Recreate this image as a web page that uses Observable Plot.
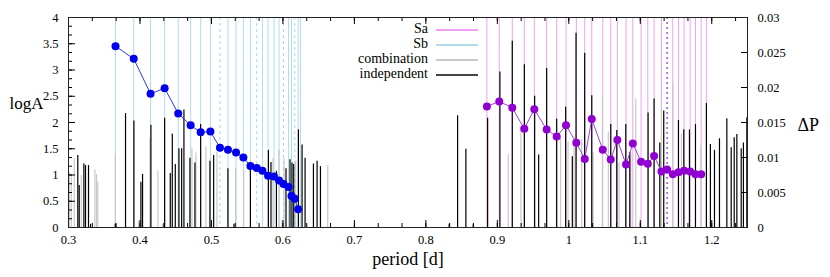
<!DOCTYPE html>
<html><head><meta charset="utf-8">
<script src="https://cdn.jsdelivr.net/npm/d3@7"></script>
<script src="https://cdn.jsdelivr.net/npm/@observablehq/plot@0.6"></script>
<style>
body{margin:0;background:#fff;}
#wrap{position:relative;width:830px;height:277px;font-family:"Liberation Serif",serif;}
.lg-t{position:absolute;font-size:14px;line-height:16px;text-align:right;white-space:nowrap;color:#000;}
.lg-l{position:absolute;height:2px;}
</style></head><body><div id="wrap"></div>
<script>
// Sb sequence periods (light-blue lines) and period spacing ΔP (blue points)
const sbPeriods=[0.3658,0.3913,0.4148,0.4345,0.4535,0.4709,0.4849,0.4985,0.5119,0.5231,0.5344,0.5447,0.5545,0.5634,0.5713,0.5792,0.5876,0.5946,0.6008,0.6078,0.6120,0.6166,0.6213,0.6245];
const sbDP=[0.0259,0.0241,0.0191,0.0199,0.0163,0.0146,0.0136,0.0137,0.0114,0.0111,0.0107,0.0100,0.0088,0.0085,0.0081,0.0074,0.0073,0.0067,0.0062,0.0058,0.0045,0.0041,0.0026];
const sbDashed=[0.5119,0.5634,0.6008,0.6166];
// Sa sequence periods (magenta lines) and ΔP (purple points)
const saPeriods=[0.8854,0.9027,0.9209,0.9377,0.9517,0.9690,0.9830,0.9961,1.0105,1.0223,1.0321,1.0475,1.0587,1.0679,1.0801,1.0895,1.1011,1.1105,1.1193,1.1296,1.1375,1.1455,1.1534,1.1613,1.1697,1.1772,1.1852,1.1925];
const saDP=[0.0173,0.0180,0.0171,0.0141,0.0169,0.0140,0.0130,0.0146,0.0121,0.0098,0.0155,0.0111,0.0097,0.0125,0.0090,0.0120,0.0094,0.0091,0.0102,0.0080,0.0083,0.0076,0.0079,0.0081,0.0080,0.0076,0.0076];
const saDashed=[1.1375];
// independent frequencies: period, logA
const indepP=[0.313,0.315,0.3215,0.3238,0.328,0.3308,0.3654,0.3798,0.3915,0.4013,0.4036,0.4153,0.4345,0.4424,0.4452,0.4494,0.4545,0.4583,0.4615,0.4699,0.4769,0.4849,0.4979,0.5031,0.5231,0.5315,0.5545,0.5797,0.5833,0.5909,0.6043,0.6099,0.6127,0.6151,0.6217,0.6268,0.6310,0.6427,0.6478,0.6525,
0.8326,0.8444,0.8560,0.8663,0.8864,0.9036,0.9209,0.9378,0.9522,0.9578,0.9690,0.9830,0.9956,1.0049,1.0101,1.0222,1.0321,1.0587,1.0671,1.0797,1.0853,1.1109,1.1193,1.1273,1.1328,1.1534,1.1609,1.1688,1.1772,1.1925,1.1981,1.2038,1.2108,1.2211,1.2272,1.2314,1.2351,1.2412,1.2443,1.2491];
const indepA=[1.37,0.80,1.21,1.18,1.18,0.06,0.06,2.17,2.03,0.86,1.01,1.95,2.08,1.03,1.78,1.20,1.50,1.50,2.24,1.32,1.23,1.96,1.26,1.37,1.12,0.06,1.24,1.47,1.24,1.07,1.12,1.29,1.23,1.20,1.86,1.57,1.32,1.21,1.26,1.16,
0.06,2.13,1.49,0.06,2.08,2.96,3.55,3.10,2.50,1.38,3.03,2.06,2.29,1.35,3.70,3.32,2.51,1.96,1.85,1.96,1.43,2.18,2.45,1.61,2.22,2.04,1.86,1.86,1.96,2.36,1.58,1.47,1.69,2.07,1.52,1.71,1.77,1.50,1.61,2.09];
// combination frequencies: period, logA
const combP=[0.301,0.3038,0.308,0.318,0.3369,0.3392,0.341,0.3654,0.398,0.4139,0.4251,0.4317,0.4727,0.4783,0.4923,0.5077,0.5339,0.5451,0.5861,0.5945,0.5989,0.6015,0.6179,0.6627,
0.9153,0.9330,0.9886,0.9989,1.0073,1.0180,1.0339,1.0470,1.0553,1.0703,1.0867,1.0937,1.1296,1.1455,1.1576,1.1847];
const combA=[1.05,1.02,1.31,0.99,1.10,1.01,0.86,1.39,0.12,1.69,1.07,0.06,1.50,1.42,1.54,1.43,1.12,1.09,1.31,1.47,0.12,1.31,1.26,1.18,
1.39,1.91,1.72,1.63,1.72,1.67,1.43,2.51,1.82,1.24,1.40,2.45,2.42,2.77,1.78,1.56];
// axes
const xTicks=[0.3,0.4,0.5,0.6,0.7,0.8,0.9,1.0,1.1,1.2];
const yTicks=[0,0.5,1,1.5,2,2.5,3,3.5,4];
const dpTicks=[0,0.005,0.01,0.015,0.02,0.025,0.03];
const legendLabels=["Sa","Sb","combination","independent"];
const legendColors=["#f0a0f0","#b0dde8","#c8c8c8","#444444"];

const W=830,H=277,ML=68,MR=83,MT=17,MB=50;
const IW=W-ML-MR, IH=H-MT-MB;
const k=4/0.03; // ΔP -> logA axis scale factor (right axis 0..0.03)

const sbPts=sbDP.map((d,i)=>({p:sbPeriods[i],y:d*k}));
const saPts=saDP.map((d,i)=>({p:saPeriods[i],y:d*k}));
const indep=indepP.map((p,i)=>({p,a:indepA[i]}));
const comb=combP.map((p,i)=>({p,a:combA[i]}));

const xMinor=d3.range(0,29).map(i=>0.3+i*0.1/3).filter(v=>v<=1.25);
const yMinor=d3.range(0,25).map(i=>i/6);

const chart=Plot.plot({
  width:W,height:H,marginLeft:ML,marginRight:MR,marginTop:MT,marginBottom:MB,
  style:{fontFamily:"Liberation Serif, serif",fontSize:"12.5px",background:"transparent",color:"#000"},
  x:{domain:[0.3,1.25]},
  y:{domain:[0,4]},
  marks:[
    Plot.ruleX(saPeriods.filter(p=>!saDashed.includes(p)),{stroke:"#f0a0f0",strokeWidth:1}),
    Plot.ruleX(sbPeriods.filter(p=>!sbDashed.includes(p)),{stroke:"#b0dde8",strokeWidth:1}),
    Plot.ruleX(sbDashed,{stroke:"#a8d8e6",strokeWidth:1,strokeDasharray:"3,3"}),
    Plot.ruleX(comb,{x:"p",y1:0,y2:"a",stroke:"#c8c8c8",strokeWidth:1.2}),
    Plot.ruleX(indep,{x:"p",y1:0,y2:"a",stroke:"#000",strokeWidth:1.2}),
    Plot.ruleX(saDashed,{stroke:"#9a30e0",strokeWidth:1.3,strokeDasharray:"2,3"}),
    Plot.line(sbPts,{x:"p",y:"y",stroke:"#3030ff",strokeWidth:1}),
    Plot.dot(sbPts,{x:"p",y:"y",r:4,fill:"#0000ee",stroke:"none"}),
    Plot.line(saPts,{x:"p",y:"y",stroke:"#a040e0",strokeWidth:1}),
    Plot.dot(saPts,{x:"p",y:"y",r:4,fill:"#9000d0",stroke:"none"}),
    // inward ticks
    Plot.tickY(yTicks,{insetRight:IW-7,stroke:"#000"}),
    Plot.tickY(yMinor,{insetRight:IW-4,stroke:"#000"}),
    Plot.tickY(dpTicks.map(v=>v*k),{insetLeft:IW-6,stroke:"#000"}),
    Plot.tickX(xTicks,{insetTop:IH-7,stroke:"#000"}),
    Plot.tickX(xTicks,{insetBottom:IH-7,stroke:"#000"}),
    Plot.tickX(xMinor,{insetTop:IH-4,stroke:"#000"}),
    Plot.tickX(xMinor,{insetBottom:IH-4,stroke:"#000"}),
    Plot.frame({stroke:"#222"}),
    Plot.axisX(xTicks,{tickSize:0,tickPadding:8,tickFormat:d=>String(+d.toFixed(1)),label:null}),
    Plot.axisY(yTicks,{anchor:"left",tickSize:0,tickPadding:10,tickFormat:d=>String(d),label:null}),
    Plot.axisY(dpTicks.map(v=>v*k),{anchor:"right",tickSize:0,tickPadding:10,tickFormat:d=>String(+(d/k).toFixed(3)),label:null}),
    Plot.text(["logA"],{frameAnchor:"left",dx:-59,dy:-19,textAnchor:"start",fontSize:17}),
    Plot.text(["ΔP"],{frameAnchor:"right",dx:50,dy:3,textAnchor:"start",fontSize:18}),
    Plot.text(["period [d]"],{frameAnchor:"bottom",dy:37,fontSize:18})
  ]
});
const wrap=document.getElementById("wrap");
wrap.appendChild(chart);
legendLabels.forEach((t,i)=>{
  const yc=30+15*i;
  const d=document.createElement("div");
  d.className="lg-t";d.textContent=t;
  d.style.right=(W-428)+"px";d.style.top=(yc-9)+"px";
  wrap.appendChild(d);
  const l=document.createElement("div");
  l.className="lg-l";l.style.left="436px";l.style.width="42px";
  l.style.top=(yc-1)+"px";l.style.background=legendColors[i];
  wrap.appendChild(l);
});
</script></body></html>
